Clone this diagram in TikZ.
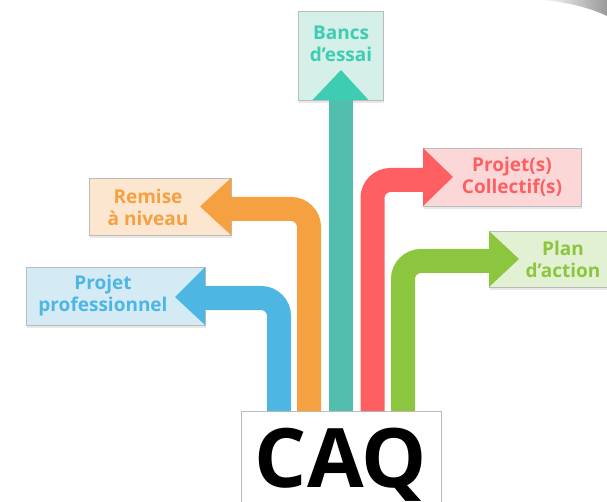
\documentclass[tikz,border=0pt]{standalone}
\usepackage{fontspec}
\setmainfont{Open Sans}
\usetikzlibrary{shadows,calc}
\definecolor{cblue}{HTML}{4DB6E2}
\definecolor{fblue}{HTML}{D4EBF5}
\definecolor{corange}{HTML}{F5A142}
\definecolor{forange}{HTML}{FCE6CF}
\definecolor{cteal}{HTML}{52BFAE}
\definecolor{hteal}{HTML}{3ECDB3}
\definecolor{fteal}{HTML}{D5EFE9}
\definecolor{cred}{HTML}{FD5F62}
\definecolor{fred}{HTML}{FCD7D7}
\definecolor{cgreen}{HTML}{8CC63F}
\definecolor{fgreen}{HTML}{E2F0D3}
\definecolor{bordergray}{HTML}{BBBBBB}
\begin{document}
\begin{tikzpicture}[x=1pt,y=-1pt,
  labelbox/.style={draw=bordergray, line width=0.8pt, inner sep=0pt, outer sep=0pt,
    drop shadow={shadow xshift=1pt, shadow yshift=-3pt, opacity=0.18}},
  labeltext/.style={font=\bfseries\fontsize{19}{22}\selectfont, align=center, inner sep=0pt},
  shaft/.style={line width=24pt, rounded corners=18pt},
]
\useasboundingbox (0,0) rectangle (607,502);
\clip (0,0) rectangle (607,502);
% page curl shadow
\shade[left color=white, right color=gray!80]
  (540,0) .. controls (568,2) and (590,8) .. (607,16) -- (607,0) -- cycle;
% boxes
\node[labelbox, fill=fblue, minimum width=179pt, minimum height=58pt] (pp) at (115.5,296) {};
\node[labelbox, fill=forange, minimum width=142pt, minimum height=57pt] (rn) at (160,206.5) {};
\node[labelbox, fill=fteal, minimum width=85pt, minimum height=89pt] (bd) at (340.5,55.5) {};
\node[labelbox, fill=fred, minimum width=158pt, minimum height=58pt] (pc) at (502,177) {};
\node[labelbox, fill=fgreen, minimum width=130pt, minimum height=56pt] (pa) at (554,259) {};
\node[labelbox, fill=white, minimum width=200pt, minimum height=100pt] (caq) at (341,461) {};
% start points on the CAQ box
\path (caq.north west) ++(38,0) coordinate (s1)
      (caq.north west) ++(68,0) coordinate (s2)
      (caq.north west) ++(100,0) coordinate (s3)
      (caq.north west) ++(131.5,0) coordinate (s4)
      (caq.north west) ++(162,0) coordinate (s5);
% shafts
\draw[shaft, cblue] (s1) |- ($(pp.east)+(0,2)$);
\draw[shaft, corange] (s2) |- ($(rn.east)+(0,2.5)$);
\draw[shaft, cteal] (s3) -- (s3 |- bd.south);
\draw[shaft, cred] (s4) |- ($(pc.west)+(0,3)$);
\draw[shaft, cgreen] (s5) |- ($(pa.west)+(0,2)$);
% heads
\fill[cblue] (pp.north east) -- (pp.south east) -- ($(pp.east)+(-30,1)$) -- cycle;
\fill[corange] (rn.north east) -- (rn.south east) -- ($(rn.east)+(-31,0)$) -- cycle;
\fill[hteal] ($(bd.south)+(-28,0)$) -- ($(bd.south)+(28,0)$) -- ($(bd.south)+(0.5,-30)$) -- cycle;
\fill[cred] (pc.north west) -- (pc.south west) -- ($(pc.west)+(30,0)$) -- cycle;
\fill[cgreen] (pa.north west) -- (pa.south west) -- ($(pa.west)+(30,0)$) -- cycle;
% labels
\node[labeltext, text=cblue] (tpp) at (103,296) {Projet\\professionnel};
\node[labeltext, text=corange] (trn) at (148,207) {Remise\\à niveau};
\node[labeltext, text=hteal] (tbd) at (341,44) {Bancs\\d’essai};
\node[labeltext, text=cred] (tpc) at (512,176.5) {Projet(s)\\Collectif(s)};
\node[labeltext, text=cgreen] (tpa) at (563,259) {Plan\\d’action};
\node[font=\bfseries\fontsize{82}{90}\selectfont, inner sep=0pt, anchor=base] (tcaq) at (341,487) {CAQ};
\end{tikzpicture}
\end{document}
